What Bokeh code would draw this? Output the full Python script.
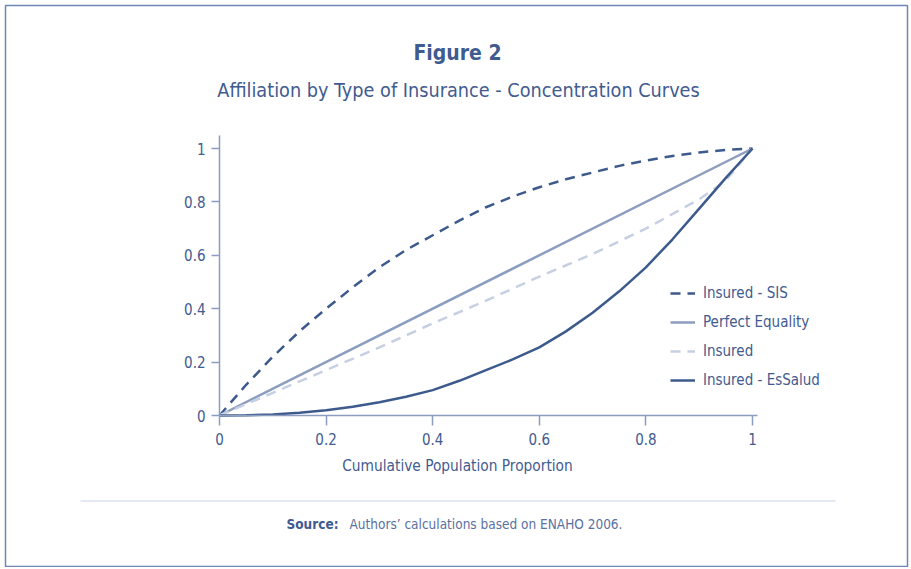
from bokeh.plotting import figure
from bokeh.models import Label, BoxAnnotation, FixedTicker, Legend, LegendItem, Range1d
from bokeh.embed import file_html
from bokeh.resources import INLINE

# ---- data ----
x_sis = [0, 0.05, 0.1, 0.15, 0.2, 0.25, 0.3, 0.35, 0.4, 0.45, 0.5, 0.55, 0.6, 0.65, 0.7, 0.75, 0.8, 0.85, 0.9, 0.95, 1.0]
y_sis = [0, 0.115, 0.22, 0.315, 0.40, 0.48, 0.555, 0.62, 0.675, 0.73, 0.78, 0.82, 0.855, 0.885, 0.91, 0.935, 0.955, 0.972, 0.985, 0.995, 1.0]
x_eq = [0, 1]
y_eq = [0, 1]
x_ins = [0, 0.1, 0.2, 0.3, 0.4, 0.5, 0.6, 0.7, 0.8, 0.9, 0.95, 1.0]
y_ins = [0, 0.085, 0.17, 0.255, 0.345, 0.43, 0.52, 0.605, 0.70, 0.81, 0.88, 1.0]
x_ess = [0, 0.05, 0.1, 0.15, 0.2, 0.25, 0.3, 0.35, 0.4, 0.45, 0.5, 0.55, 0.6, 0.65, 0.7, 0.75, 0.8, 0.85, 0.9, 0.95, 1.0]
y_ess = [0, 0.001, 0.004, 0.01, 0.02, 0.033, 0.05, 0.07, 0.095, 0.13, 0.17, 0.21, 0.255, 0.315, 0.385, 0.465, 0.555, 0.66, 0.775, 0.89, 1.0]
tick_values = [0, 0.2, 0.4, 0.6, 0.8, 1.0]
tick_labels = ["0", "0.2", "0.4", "0.6", "0.8", "1"]
series_names = ["Insured - SIS", "Perfect Equality", "Insured", "Insured - EsSalud"]
x_title = "Cumulative Population Proportion"

FONT = "DejaVu Sans Condensed"
TXT = "#3f5b8f"
DARK = "#3d5a8c"
MID = "#8d9dbf"
LIGHT = "#c6d0e2"
AXC = "#8d9dbf"

W, H = 909, 567
X0, X1 = 219, 752            # canvas px of x=0 and x=1
Y0, Y1 = 415, 148            # canvas px (from top) of y=0 and y=1
PX = X1 - X0
PY = Y0 - Y1
x_range = Range1d(-X0 / PX, (W - X0) / PX)
y_range = Range1d(-(H - Y0) / PY, Y0 / PY)

p = figure(width=W, height=H, output_backend="svg", toolbar_location=None,
           x_range=x_range, y_range=y_range,
           min_border_left=0, min_border_right=0, min_border_top=0, min_border_bottom=0)
p.outline_line_color = None
p.grid.visible = False
p.background_fill_color = "white"
p.border_fill_color = "white"

for ax in (p.xaxis[0], p.yaxis[0]):
    ax.fixed_location = 0
    ax.ticker = FixedTicker(ticks=tick_values)
    ax.major_label_overrides = {v: l for v, l in zip(tick_values, tick_labels)}
    ax.minor_tick_line_color = None
    ax.axis_line_color = AXC
    ax.axis_line_width = 1.5
    ax.major_tick_line_color = AXC
    ax.major_tick_line_width = 1.5
    ax.major_tick_in = 0
    ax.major_label_text_font = FONT
    ax.major_label_text_font_size = "15px"
    ax.major_label_text_color = TXT
p.xaxis.bounds = (0, 1.01)
p.yaxis.bounds = (0, 1.05)
p.xaxis.major_tick_out = 10
p.yaxis.major_tick_out = 8
p.xaxis.major_label_standoff = 7
p.yaxis.major_label_standoff = 6

r_sis = p.line(x_sis, y_sis, line_color=DARK, line_width=2.5, line_dash="10 7")
r_eq = p.line(x_eq, y_eq, line_color=MID, line_width=2.5)
r_ins = p.line(x_ins, y_ins, line_color=LIGHT, line_width=2.5, line_dash="10 7")
r_ess = p.line(x_ess, y_ess, line_color=DARK, line_width=2.5)

legend = Legend(items=[LegendItem(label=n, renderers=[r]) for n, r in
                       zip(series_names, [r_sis, r_eq, r_ins, r_ess])],
                location=(670, H - 390), orientation="vertical",
                label_text_font=FONT, label_text_font_size="15px", label_text_color=TXT,
                glyph_width=25, glyph_height=20, label_height=20, label_standoff=8,
                spacing=9, padding=0, margin=0, border_line_color=None,
                background_fill_alpha=0)
p.add_layout(legend, "center")

# x-axis title (offset left of the axis centre, as in the original)
p.add_layout(Label(x=457, y=H - 465, x_units="screen", y_units="screen", text=x_title,
                   text_font=FONT, text_font_size="15.3px",
                   text_color=TXT, text_align="center", text_baseline="middle"))

# titles (screen units: origin at bottom-left of the canvas)
p.add_layout(Label(x=457, y=H - 52, x_units="screen", y_units="screen", text="Figure 2",
                   text_font=FONT, text_font_size="21px", text_font_style="bold",
                   text_color=TXT, text_align="center", text_baseline="middle"))
p.add_layout(Label(x=458, y=H - 90, x_units="screen", y_units="screen",
                   text="Affiliation by Type of Insurance - Concentration Curves",
                   text_font=FONT, text_font_size="19.7px",
                   text_color=TXT, text_align="center", text_baseline="middle"))
# source
p.add_layout(Label(x=286, y=H - 523, x_units="screen", y_units="screen", text="Source:",
                   text_font=FONT, text_font_size="13.5px", text_font_style="bold",
                   text_color=TXT, text_align="left", text_baseline="middle"))
p.add_layout(Label(x=349, y=H - 523, x_units="screen", y_units="screen",
                   text="Authors\u2019 calculations based on ENAHO 2006.",
                   text_font=FONT, text_font_size="13.5px",
                   text_color="#5a71a0", text_align="left", text_baseline="middle"))
# separator and outer border
p.add_layout(BoxAnnotation(left=80, right=835, bottom=H - 501, top=H - 500,
                           left_units="screen", right_units="screen",
                           bottom_units="screen", top_units="screen",
                           fill_color="#c9d1e2", fill_alpha=1, line_color=None))
p.add_layout(BoxAnnotation(left=5, right=907, bottom=H - 566, top=H - 5,
                           left_units="screen", right_units="screen",
                           bottom_units="screen", top_units="screen",
                           fill_alpha=0, line_color="#6f87b3", line_alpha=1,
                           line_width=1.5))

open("out.html", "w").write(file_html(p, INLINE))
